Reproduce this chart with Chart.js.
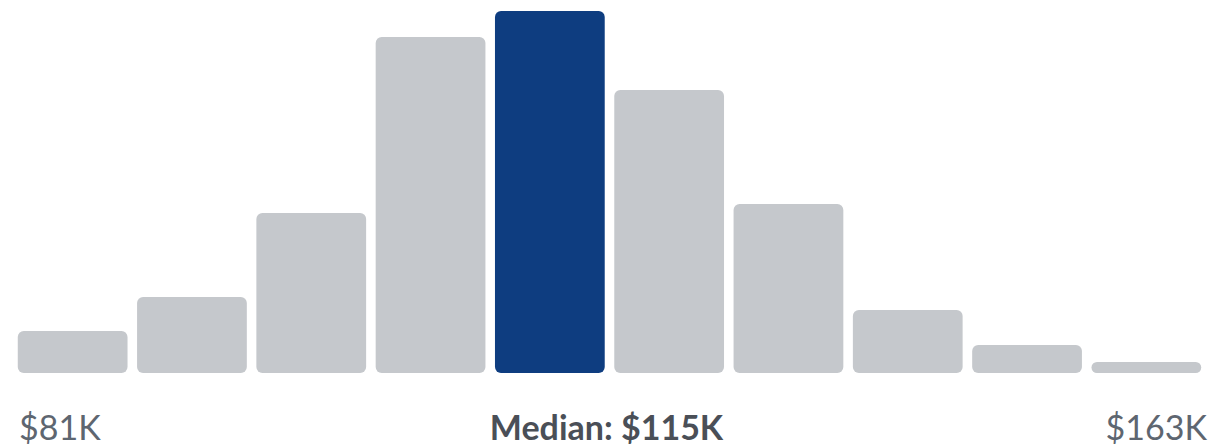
<!DOCTYPE html>
<html>
<head>
<meta charset="utf-8">
<script src="https://cdn.jsdelivr.net/npm/chart.js@4"></script>
<style>
  html, body { margin: 0; padding: 0; background: #ffffff; }
  body { width: 1217px; height: 446px; position: relative; overflow: hidden; font-family: Lato, "Open Sans", sans-serif; }
  #wrap { position: absolute; left: 0; top: 0; width: 1217px; height: 380px; }
  .lbl { position: absolute; top: 407px; font-size: 34px; line-height: 40px; color: #5e6670; white-space: nowrap; }
  #lo { left: 19px; }
  #hi { right: 10px; }
  #med { left: -2px; width: 1217px; text-align: center; font-weight: bold; color: #4a4f57; }
</style>
</head>
<body>
<div id="wrap"><canvas id="c"></canvas></div>
<div class="lbl" id="lo"></div>
<div class="lbl" id="med"></div>
<div class="lbl" id="hi"></div>
<script>
const bins = ["1", "2", "3", "4", "5", "6", "7", "8", "9", "10"];
const counts = [42, 76, 160, 336, 362, 283, 169, 63, 28, 11];
const medianIndex = 4;
const minLabel = "$81K";
const medianLabel = "Median: $115K";
const maxLabel = "$163K";

document.getElementById('lo').textContent = minLabel;
document.getElementById('med').textContent = medianLabel;
document.getElementById('hi').textContent = maxLabel;

const colors = counts.map((v, i) => i === medianIndex ? '#0e3d80' : '#c5c8cc');

new Chart(document.getElementById('c'), {
  type: 'bar',
  data: {
    labels: bins,
    datasets: [{
      data: counts,
      backgroundColor: colors,
      borderWidth: 0,
      borderRadius: 6,
      borderSkipped: false,
      barPercentage: 0.92,
      categoryPercentage: 1.0
    }]
  },
  options: {
    responsive: true,
    maintainAspectRatio: false,
    animation: false,
    layout: { padding: { left: 13, right: 11, top: 11, bottom: 7 } },
    plugins: { legend: { display: false }, tooltip: { enabled: false } },
    scales: {
      x: { display: false },
      y: { display: false, min: 0, max: Math.max(...counts) }
    }
  }
});
</script>
</body>
</html>
